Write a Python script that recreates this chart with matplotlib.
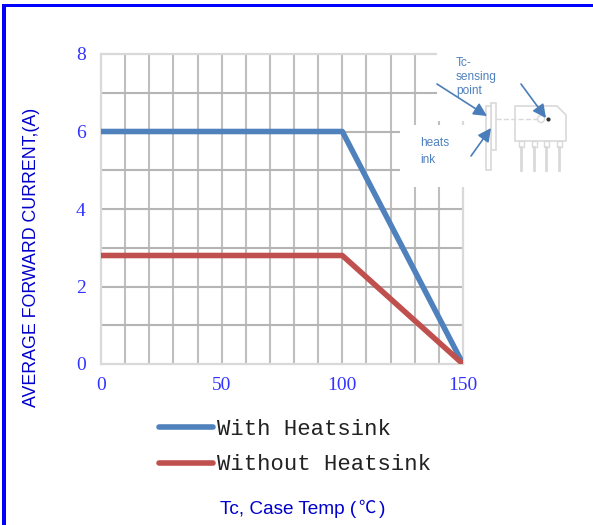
import matplotlib
matplotlib.use("Agg")
import matplotlib.pyplot as plt
from matplotlib.patches import Rectangle, Polygon, Circle

# derating curves
temp_with = [0, 100, 150]
current_with = [6, 6, 0]
temp_without = [0, 100, 150]
current_without = [2.8, 2.8, 0]

x_ticks = [0, 50, 100, 150]
y_ticks = [0, 2, 4, 6, 8]
x_grid = [10, 20, 30, 40, 50, 60, 70, 80, 90, 100, 110, 120, 130, 140]
y_grid = [1, 2, 3, 4, 5, 6, 7]

W, H = 593, 525
fig = plt.figure(figsize=(W / 100, H / 100), dpi=100)
ax = fig.add_axes([101 / W, 1 - 364 / H, 362 / W, 310 / H])

ax.set_xlim(0, 150)
ax.set_ylim(0, 8)
ax.set_xticks(x_ticks)
ax.set_yticks(y_ticks)
ax.tick_params(axis="x", length=0, labelcolor="#3333ff", labelsize=14, pad=9)
ax.tick_params(axis="y", length=0, labelcolor="#3333ff", labelsize=14, pad=11)
for lab in ax.get_xticklabels() + ax.get_yticklabels():
    lab.set_family("Liberation Serif")
for x in x_grid:
    ax.axvline(x, color="#bfbfbf", lw=1.5, zorder=1)
for y in y_grid:
    ax.axhline(y, color="#b5b5b5", lw=1.5, zorder=1)
for s in ax.spines.values():
    s.set_color("#d9d9d9")
    s.set_linewidth(1.6)

line1, = ax.plot(temp_with, current_with, color="#4f81bd", lw=4, label="With Heatsink", zorder=3,
                 solid_capstyle="butt", solid_joinstyle="round")
line2, = ax.plot(temp_without, current_without, color="#c0504d", lw=4, label="Without Heatsink", zorder=4,
                 solid_capstyle="butt", solid_joinstyle="round")

fig.text(32 / W, 1 - 257.5 / H, "AVERAGE FORWARD CURRENT,(A)", rotation=90, ha="center", va="center",
         color="#0000cc", fontsize=12.8, family="Liberation Sans")
fig.text(220 / W, 1 - 509 / H, "Tc, Case Temp (", ha="left", va="center",
         color="#0000cc", fontsize=13.7, family="Liberation Sans")
fig.text(367 / W, 1 - 508 / H, "℃", ha="center", va="center",
         color="#0000cc", fontsize=12.5, family="Noto Sans CJK SC", fontweight="light")
fig.text(379 / W, 1 - 509 / H, ")", ha="left", va="center",
         color="#0000cc", fontsize=13.7, family="Liberation Sans")

leg = fig.legend(handles=[line1, line2], loc="upper left", bbox_to_anchor=(159 / W, 1 - 419 / H),
                 frameon=False, borderaxespad=0, borderpad=0, handlelength=2.43, handletextpad=0.18,
                 labelspacing=0.65, prop={"family": "Liberation Mono", "size": 16})
for t in leg.get_texts():
    t.set_color("#222222")
for h in leg.get_lines():
    h.set_solid_capstyle("round")

# overlay in pixel coordinates: frame, white patches, package sketch
ov = fig.add_axes([0, 0, 1, 1], zorder=5)
ov.set_xlim(0, W)
ov.set_ylim(H, 0)
ov.axis("off")
ov.patch.set_alpha(0)

ov.add_patch(Rectangle((437, 30), 100, 91, fc="white", ec="none"))
ov.add_patch(Rectangle((400, 125), 90, 62, fc="white", ec="none"))
ov.add_patch(Rectangle((2, 4), W, 2.5, fc="#0000ff", ec="none"))
ov.add_patch(Rectangle((2, 4), 4, H, fc="#0000ff", ec="none"))

gray = "#d9d9d9"
ov.add_patch(Rectangle((491, 103), 5, 47, fc="white", ec=gray, lw=1.2))
ov.add_patch(Rectangle((486, 106), 5, 64, fc="white", ec=gray, lw=1.2))
ov.plot([496, 540], [119, 119], color=gray, lw=1, ls="--")
ov.add_patch(Polygon([(515, 106), (557, 106), (566, 115), (566, 141), (515, 141)], closed=True, fc="white", ec=gray, lw=1.2))
ov.add_patch(Circle((541, 119), 3.5, fc="white", ec=gray, lw=1))
ov.plot([548], [119], marker="o", ms=2, color="#333333")
for px in [521, 534, 546, 559]:
    ov.add_patch(Rectangle((px - 2.5, 141), 5, 6, fc="white", ec=gray, lw=1))
    ov.plot([px, px], [147, 170], color=gray, lw=2)

arrow = dict(arrowstyle="-|>", color="#4a7ebb", lw=1.2, mutation_scale=20, shrinkA=0, shrinkB=0)
ov.annotate("", xy=(487, 116), xytext=(437, 84), arrowprops=arrow)
ov.annotate("", xy=(491, 128), xytext=(471, 156), arrowprops=arrow)
ov.annotate("", xy=(546, 118), xytext=(521, 84), arrowprops=arrow)

ov.text(456, 77, "Tc-\nsensing\npoint", color="#4f81bd", fontsize=8.6, family="Liberation Sans", va="center", ha="left", linespacing=1.2)
ov.text(420, 151.5, "heats\nink", color="#4f81bd", fontsize=8.6, family="Liberation Sans", va="center", ha="left", linespacing=1.5)

fig.savefig("out.png", dpi=100)
